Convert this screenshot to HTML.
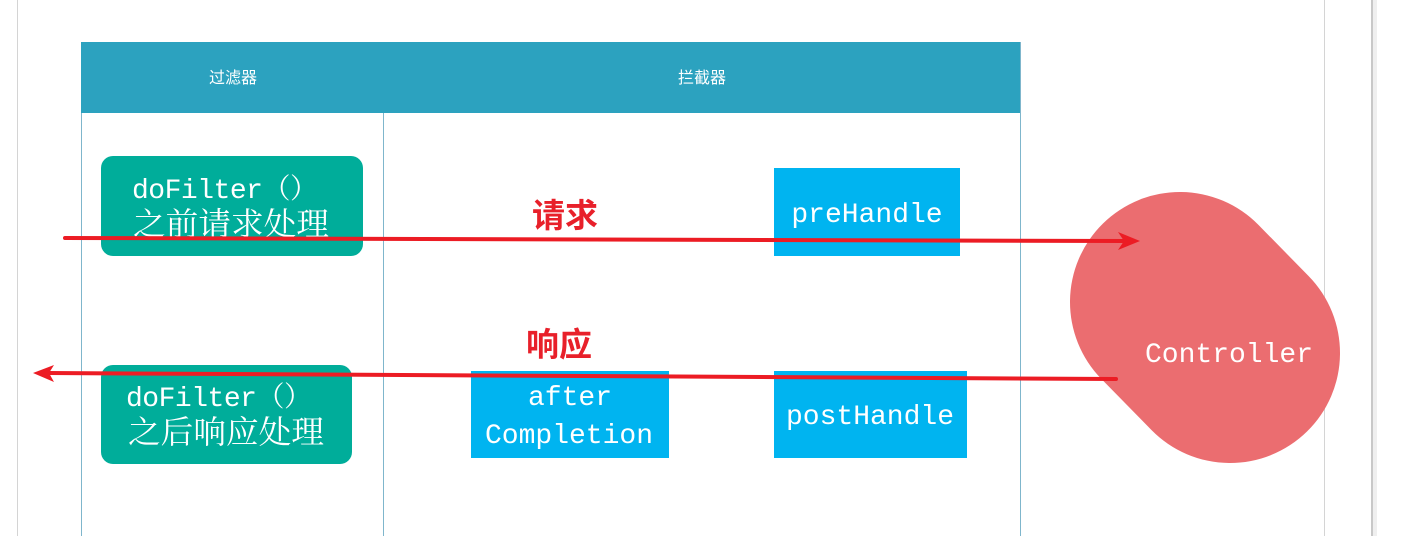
<!DOCTYPE html>
<html><head><meta charset="utf-8"><style>
html,body{margin:0;padding:0;background:#fff;width:1402px;height:536px;overflow:hidden}
svg{display:block}
.m{font-family:"Liberation Mono","Noto Serif CJK SC",monospace;fill:#fff;font-size:28px}
.k{font-family:"Liberation Serif","Noto Serif CJK SC",serif;fill:#fff;font-size:32px}
.c{font-family:"Liberation Sans","Noto Sans CJK SC",sans-serif;fill:#fff;font-size:16px}
.r{font-family:"Liberation Sans","Noto Sans CJK SC",sans-serif;fill:#e8202a;font-size:33px;font-weight:bold}
</style></head><body>
<svg width="1402" height="536" viewBox="0 0 1402 536">
<line x1="17.5" y1="0" x2="17.5" y2="536" stroke="#d4d4d4"/>
<line x1="1324.5" y1="0" x2="1324.5" y2="536" stroke="#d4d4d4"/>
<rect x="1371" y="0" width="2" height="536" fill="#c8c8c8"/>
<rect x="1373" y="0" width="4" height="536" fill="#efefef"/>
<rect x="81" y="42" width="939" height="71" fill="#2ca2bf"/>
<line x1="81.5" y1="113" x2="81.5" y2="536" stroke="#7fb6cc"/>
<line x1="383.5" y1="113" x2="383.5" y2="536" stroke="#7fb6cc"/>
<line x1="1020.5" y1="42" x2="1020.5" y2="536" stroke="#7fb6cc"/>
<text class="c" x="233" y="83" text-anchor="middle">过滤器</text>
<text class="c" x="702" y="83" text-anchor="middle">拦截器</text>
<rect x="101" y="156" width="262" height="100" rx="12" fill="#00ad9a"/>
<text class="m" x="132" y="198" textLength="186" lengthAdjust="spacing">doFilter（）</text>
<text class="k" x="133" y="235" textLength="196" lengthAdjust="spacingAndGlyphs">之前请求处理</text>
<rect x="101" y="365" width="251" height="99" rx="12" fill="#00ad9a"/>
<text class="m" x="126" y="406" textLength="186" lengthAdjust="spacing">doFilter（）</text>
<text class="k" x="128" y="443" textLength="196" lengthAdjust="spacingAndGlyphs">之后响应处理</text>
<rect x="774" y="168" width="186" height="88" fill="#00b4f0"/>
<text class="m" x="867" y="222" text-anchor="middle">preHandle</text>
<rect x="471" y="371" width="198" height="87" fill="#00b4f0"/>
<text class="m" x="570" y="405" text-anchor="middle">after</text>
<text class="m" x="569" y="443" text-anchor="middle">Completion</text>
<rect x="774" y="371" width="193" height="87" fill="#00b4f0"/>
<text class="m" x="870" y="424" text-anchor="middle">postHandle</text>
<line x1="1180" y1="302" x2="1230" y2="353" stroke="#eb6d70" stroke-width="220" stroke-linecap="round"/>
<text class="m" x="1229" y="362" text-anchor="middle">Controller</text>
<text class="r" x="532" y="227">请求</text>
<text class="r" x="526" y="356">响应</text>
<line x1="65" y1="238" x2="1125" y2="241" stroke="#ec1c24" stroke-width="4" stroke-linecap="round"/>
<polygon points="1140,241 1118,232 1124,241 1118,250" fill="#ec1c24"/>
<line x1="1116" y1="379" x2="48" y2="373" stroke="#ec1c24" stroke-width="4" stroke-linecap="round"/>
<polygon points="33,373 54,365 49,373 54,382" fill="#ec1c24"/>
</svg>
</body></html>
